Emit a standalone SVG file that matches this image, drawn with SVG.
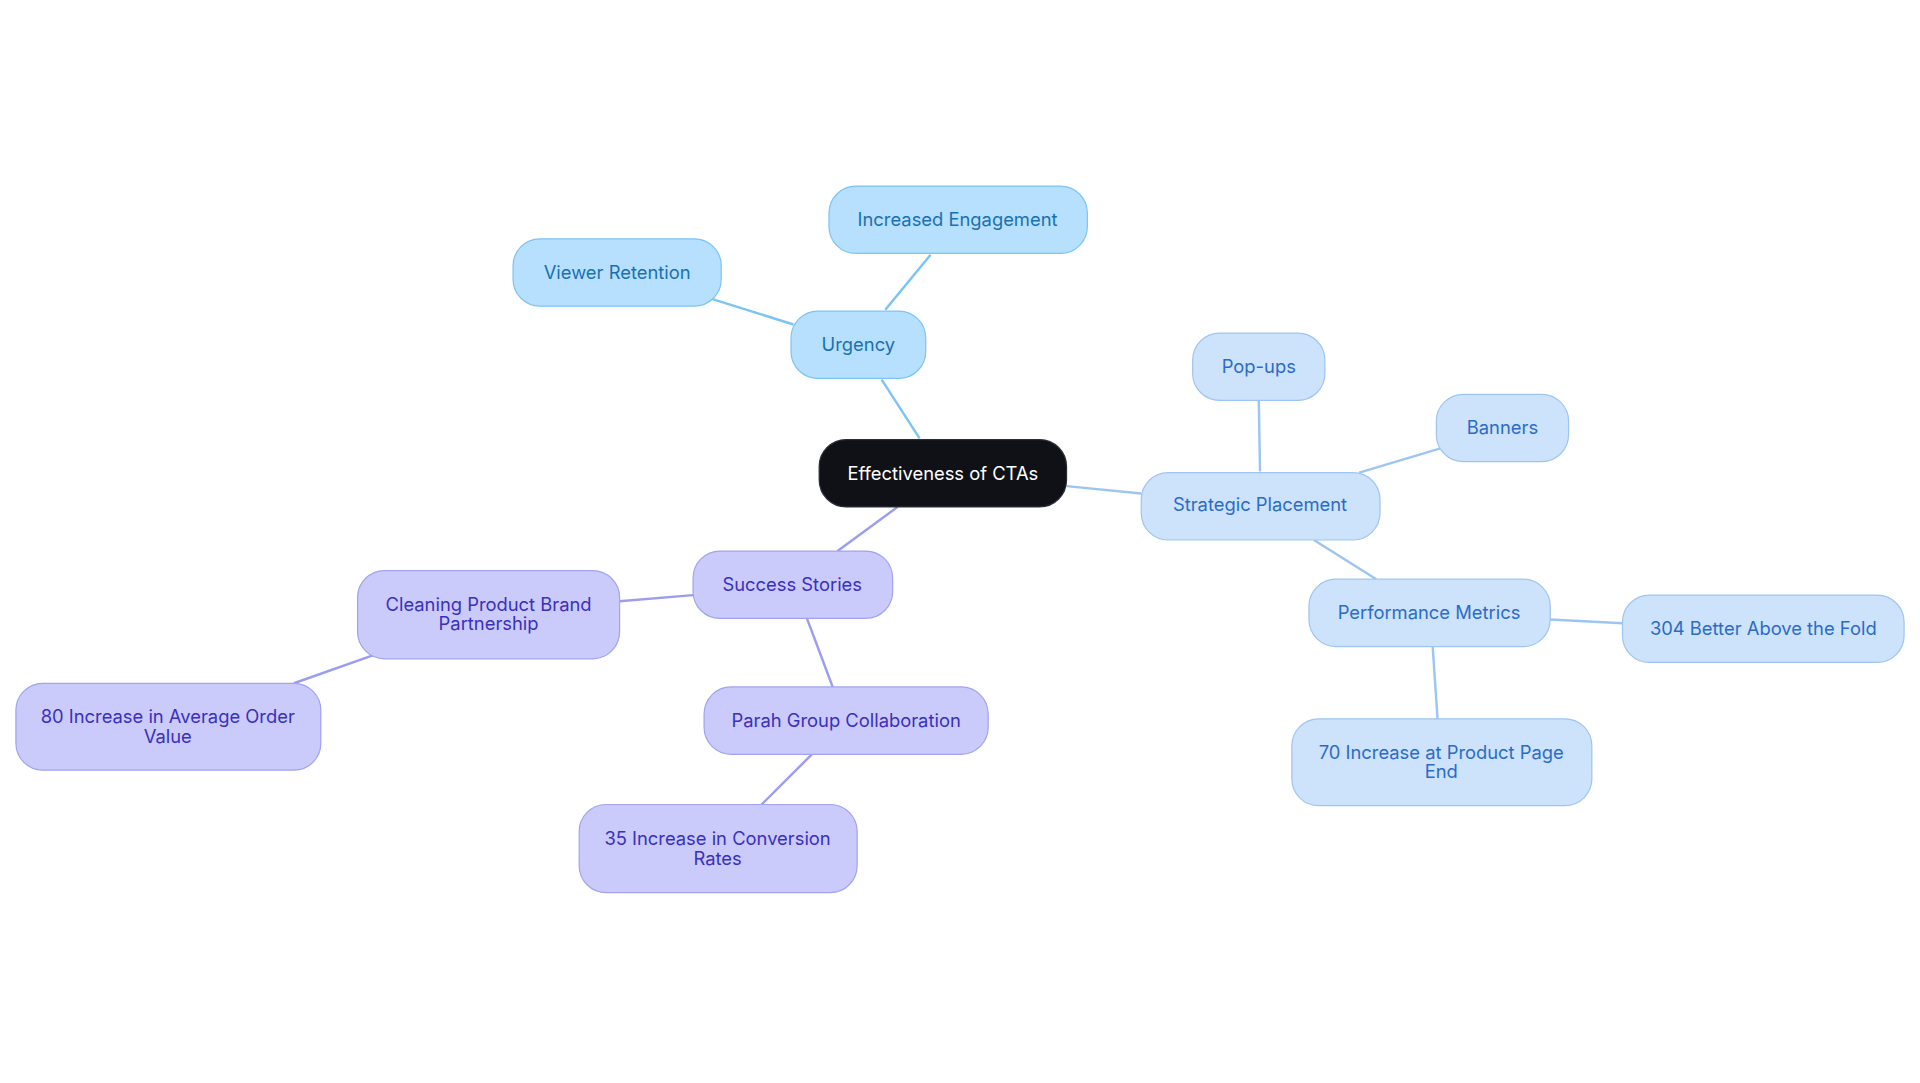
<svg xmlns="http://www.w3.org/2000/svg" width="1920" height="1083" viewBox="0 0 1920 1083">
<style>
text{font-family:Inter,"Liberation Sans",sans-serif;font-size:15px;text-anchor:middle;dominant-baseline:central}
.c rect{fill:#0f1117;stroke:#2a2d35}.c text{fill:#fff}
.u rect{fill:#b6e0fd;stroke:#7cc4f5}.u text{fill:#1b70b3}
.s rect{fill:#cde2fb;stroke:#9ec5f1}.s text{fill:#2b6cc8}
.p rect{fill:#cbcbfb;stroke:#a2a2f0}.p text{fill:#3a30be}
.e line{stroke-width:2}
</style>
<rect width="1920" height="1083" fill="#fff"/>
<g transform="scale(1.2245)">
<g id="connectors" class="e">
<g stroke="#7cc4f5"><line x1="751" y1="358" x2="720" y2="310"/><line x1="723" y1="253" x2="760" y2="208"/><line x1="648" y1="265" x2="578" y2="243"/></g>
<g stroke="#9ec5f1"><line x1="871" y1="397" x2="932" y2="403"/><line x1="1029" y1="385" x2="1028" y2="327"/><line x1="1110" y1="386" x2="1177" y2="366"/><line x1="1073" y1="441" x2="1124" y2="473"/><line x1="1266" y1="506" x2="1325" y2="509"/><line x1="1170" y1="528" x2="1174" y2="587"/></g>
<g stroke="#9c9cf0"><line x1="733" y1="414" x2="684" y2="450"/><line x1="566" y1="486" x2="506" y2="491"/><line x1="305" y1="535" x2="240" y2="558"/><line x1="659" y1="505" x2="680" y2="561"/><line x1="663" y1="616" x2="622" y2="657"/></g>
</g>
<g id="center" class="c"><rect x="669" y="359" width="202" height="55" rx="22"/><text x="770" y="386">Effectiveness of CTAs</text></g>
<g id="urgency" class="u"><rect x="646" y="254" width="110" height="55" rx="22"/><text x="701" y="281">Urgency</text></g>
<g id="engagement" class="u"><rect x="677" y="152" width="211" height="55" rx="22"/><text x="782" y="179">Increased Engagement</text></g>
<g id="retention" class="u"><rect x="419" y="195" width="170" height="55" rx="22"/><text x="504" y="222">Viewer Retention</text></g>
<g id="strategic" class="s"><rect x="932" y="386" width="195" height="55" rx="22"/><text x="1029" y="412">Strategic Placement</text></g>
<g id="popups" class="s"><rect x="974" y="272" width="108" height="55" rx="22"/><text x="1028" y="299">Pop-ups</text></g>
<g id="banners" class="s"><rect x="1173" y="322" width="108" height="55" rx="22"/><text x="1227" y="349">Banners</text></g>
<g id="perf" class="s"><rect x="1069" y="473" width="197" height="55" rx="22"/><text x="1167" y="500">Performance Metrics</text></g>
<g id="fold" class="s"><rect x="1325" y="486" width="230" height="55" rx="22"/><text x="1440" y="513">304 Better Above the Fold</text></g>
<g id="pageend" class="s"><rect x="1055" y="587" width="245" height="71" rx="22"/><text x="1177" y="614">70 Increase at Product Page</text><text x="1177" y="630">End</text></g>
<g id="success" class="p"><rect x="566" y="450" width="163" height="55" rx="22"/><text x="647" y="477">Success Stories</text></g>
<g id="cleaning" class="p"><rect x="292" y="466" width="214" height="72" rx="22"/><text x="399" y="493">Cleaning Product Brand</text><text x="399" y="509">Partnership</text></g>
<g id="aov" class="p"><rect x="13" y="558" width="249" height="71" rx="22"/><text x="137" y="585">80 Increase in Average Order</text><text x="137" y="601">Value</text></g>
<g id="parah" class="p"><rect x="575" y="561" width="232" height="55" rx="22"/><text x="691" y="588">Parah Group Collaboration</text></g>
<g id="conv" class="p"><rect x="473" y="657" width="227" height="72" rx="22"/><text x="586" y="684">35 Increase in Conversion</text><text x="586" y="701">Rates</text></g>
</g>
</svg>
